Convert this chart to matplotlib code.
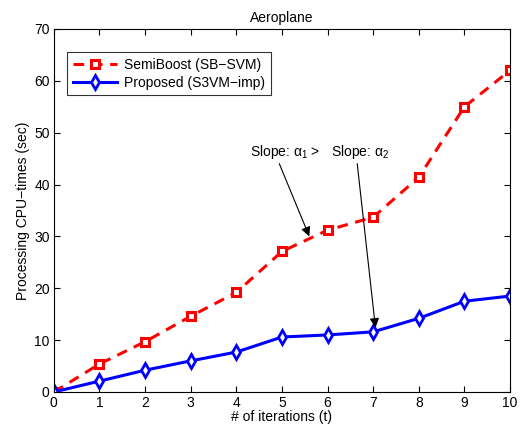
import matplotlib
matplotlib.use('Agg')
import matplotlib.pyplot as plt

plt.rcParams['font.family'] = ['Liberation Sans', 'DejaVu Sans']
plt.rcParams['mathtext.fontset'] = 'custom'
plt.rcParams['mathtext.rm'] = 'Liberation Sans'
plt.rcParams['mathtext.it'] = 'Liberation Sans'

# data
iterations = [0, 1, 2, 3, 4, 5, 6, 7, 8, 9, 10]
semiboost = [0, 5.4, 9.7, 14.6, 19.2, 27.1, 31.2, 33.7, 41.4, 55.0, 62.0]
proposed = [0, 2.1, 4.2, 6.0, 7.7, 10.6, 11.0, 11.6, 14.2, 17.5, 18.5]
labels = ['SemiBoost (SB\u2212SVM)', 'Proposed (S3VM\u2212imp)']

fs = 10

fig = plt.figure(figsize=(5.28, 4.32), dpi=100)
ax = fig.add_axes([0.102, 0.0926, 0.864, 0.8404])

ax.plot(iterations, semiboost, '--s', color='red', lw=2.2, ms=6, mew=2.2,
        mfc='white', dashes=(3.5, 2.5), label=labels[0])
ax.plot(iterations, proposed, '-d', color='blue', lw=2.2, ms=7.5, mew=2,
        mfc='white', label=labels[1])

ax.set_xlim(0, 10)
ax.set_ylim(0, 70)
ax.set_xticks(range(0, 11))
ax.set_yticks(range(0, 71, 10))
ax.tick_params(direction='in', top=True, right=True, labelsize=fs, length=4, pad=3)
ax.set_xlabel('# of iterations (t)', fontsize=fs, labelpad=0)
ax.set_ylabel('Processing CPU\u2212times (sec)', fontsize=fs, labelpad=3)
ax.set_title('Aeroplane', fontsize=fs, pad=5)

leg = ax.legend(loc='upper left', bbox_to_anchor=(0.02, 0.948), fontsize=fs,
                frameon=True, fancybox=False, edgecolor='black',
                borderaxespad=0.3, handlelength=3.2, labelspacing=0.3,
                borderpad=0.4, handletextpad=0.5)
leg.get_frame().set_linewidth(0.8)

# annotations
ax.annotate('Slope: $\\alpha_1$ >', xy=(5.6, 30.0), xytext=(4.3, 46.3),
            fontsize=fs, va='center',
            arrowprops=dict(arrowstyle='-|>', color='black', lw=0.8,
                            shrinkA=0, shrinkB=0, mutation_scale=14,
                            relpos=(0.4, 0)))
ax.annotate('Slope: $\\alpha_2$', xy=(7.05, 12.4), xytext=(6.07, 46.3),
            fontsize=fs, va='center',
            arrowprops=dict(arrowstyle='-|>', color='black', lw=0.8,
                            shrinkA=0, shrinkB=0, mutation_scale=14,
                            relpos=(0.45, 0)))

fig.savefig('out.png', dpi=100)
